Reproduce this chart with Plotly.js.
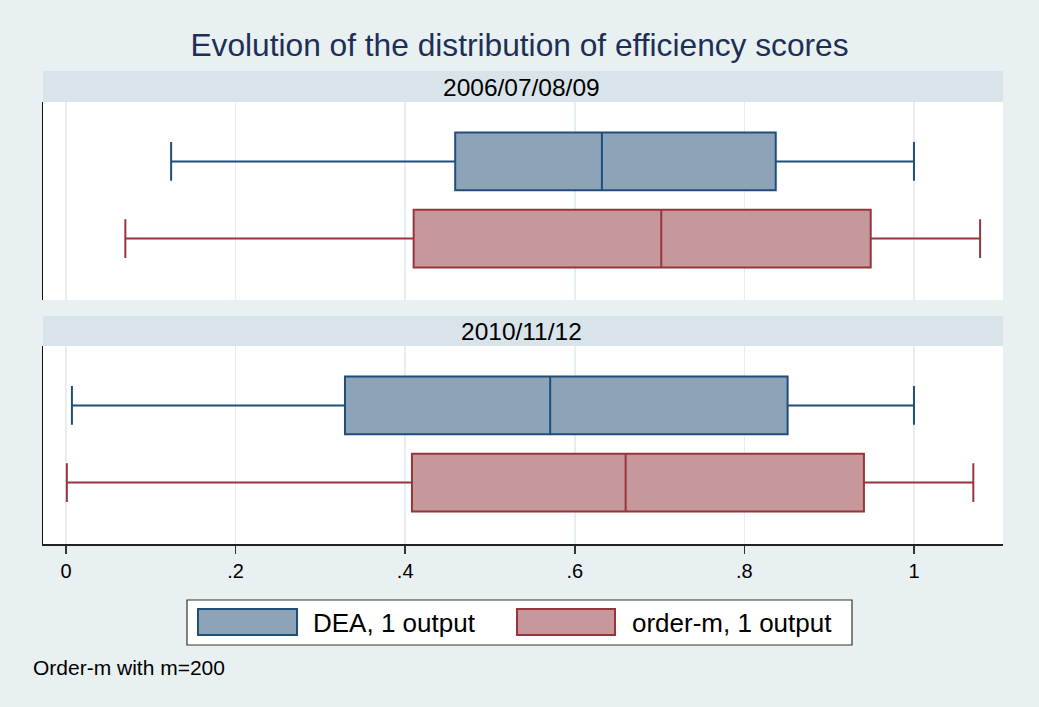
<!DOCTYPE html>
<html>
<head>
<meta charset="utf-8">
<script src="https://cdn.plot.ly/plotly-3.0.1.min.js"></script>
<style>html,body{margin:0;padding:0;background:#E8F0F2;}#chart{width:1039px;height:707px;}</style>
</head>
<body>
<div id="chart"></div>
<script>
// ---- data ----
const seriesNames = ["DEA, 1 output", "order-m, 1 output"];
const periods = ["2006/07/08/09", "2010/11/12"];
// per period: [2006/07/08/09, 2010/11/12]
const deaLower  = [0.124, 0.007];
const deaQ1     = [0.459, 0.329];
const deaMedian = [0.632, 0.571];
const deaQ3     = [0.837, 0.851];
const deaUpper  = [1.000, 1.000];
const omLower   = [0.070, 0.001];
const omQ1      = [0.410, 0.408];
const omMedian  = [0.702, 0.660];
const omQ3      = [0.949, 0.941];
const omUpper   = [1.078, 1.070];
const tickVals  = [0, 0.2, 0.4, 0.6, 0.8, 1];
const tickText  = ["0", ".2", ".4", ".6", ".8", "1"];
const noteText  = "Order-m with m=200";
const titleText = "Evolution of the distribution of efficiency scores";

// ---- styling ----
const W = 1039, H = 707;
const px = x => x / W, py = y => 1 - y / H;
const FONT = "Liberation Sans, Arial, sans-serif";
const styles = [
  {line: "#1F4E79", fill: "#8DA3B8"},
  {line: "#97353C", fill: "#C7989B"}
];
const lowers = [deaLower, omLower], q1s = [deaQ1, omQ1], meds = [deaMedian, omMedian],
      q3s = [deaQ3, omQ3], uppers = [deaUpper, omUpper];

const traces = [];
periods.forEach((p, pi) => {
  seriesNames.forEach((s, si) => {
    traces.push({
      type: "box", orientation: "h",
      name: s, showlegend: false,
      y: [s],
      lowerfence: [lowers[si][pi]], q1: [q1s[si][pi]], median: [meds[si][pi]],
      q3: [q3s[si][pi]], upperfence: [uppers[si][pi]],
      boxpoints: false,
      width: 0.75, whiskerwidth: 0.67,
      fillcolor: styles[si].fill,
      line: {color: styles[si].line, width: 2},
      xaxis: pi === 0 ? "x" : "x2",
      yaxis: pi === 0 ? "y" : "y2",
      hoverinfo: "skip"
    });
  });
});

const xr = [-0.0271, 1.105];
const yr = [-0.795, 1.769];
const catOrder = [seriesNames[1], seriesNames[0]];
const xBase = {
  range: xr, domain: [px(43), px(1003)], tickvals: tickVals, ticktext: tickText,
  showgrid: true, gridcolor: "#E6EEF1", gridwidth: 1.5, zeroline: false, fixedrange: true
};
const yBase = {
  type: "category", categoryorder: "array", categoryarray: catOrder, range: yr,
  showline: true, linecolor: "#111", linewidth: 1.5, showgrid: false, zeroline: false,
  showticklabels: false, ticks: "", fixedrange: true
};

const layout = {
  width: W, height: H,
  margin: {l: 0, r: 0, t: 0, b: 0},
  paper_bgcolor: "#E8F0F2", plot_bgcolor: "#FFFFFF",
  showlegend: false,
  font: {family: FONT, color: "#000"},
  title: {text: titleText, x: 0.5, xanchor: "center", y: py(45), yanchor: "middle",
          font: {family: FONT, size: 31.7, color: "#1E2F55"}},
  xaxis: Object.assign({}, xBase, {anchor: "y", showticklabels: false, ticks: "", showline: false}),
  xaxis2: Object.assign({}, xBase, {anchor: "y2", matches: "x", showline: true, linecolor: "#222", linewidth: 1.5,
          ticks: "outside", ticklen: 8, tickwidth: 1.5, tickcolor: "#333",
          tickfont: {family: FONT, size: 20, color: "#000"}}),
  yaxis: Object.assign({}, yBase, {domain: [py(300), py(102)], anchor: "x"}),
  yaxis2: Object.assign({}, yBase, {domain: [py(544), py(346)], anchor: "x2"}),
  shapes: [
    // strip headers
    {type: "rect", xref: "paper", yref: "paper", x0: px(43), x1: px(1003), y0: py(102), y1: py(71),
     fillcolor: "#D8E4EA", line: {width: 0}, layer: "below"},
    {type: "rect", xref: "paper", yref: "paper", x0: px(43), x1: px(1003), y0: py(346), y1: py(316),
     fillcolor: "#D8E4EA", line: {width: 0}, layer: "below"},
    // legend frame
    {type: "rect", xref: "paper", yref: "paper", x0: px(187), x1: px(852), y0: py(645), y1: py(600),
     fillcolor: "#FFFFFF", line: {color: "#333", width: 1.2}},
    // legend swatches
    {type: "rect", xref: "paper", yref: "paper", x0: px(198), x1: px(297), y0: py(635), y1: py(609),
     fillcolor: styles[0].fill, line: {color: styles[0].line, width: 2}},
    {type: "rect", xref: "paper", yref: "paper", x0: px(517), x1: px(615), y0: py(635), y1: py(609),
     fillcolor: styles[1].fill, line: {color: styles[1].line, width: 2}}
  ],
  annotations: [
    {text: periods[0], xref: "paper", yref: "paper", x: px(521), y: py(87), xanchor: "center", yanchor: "middle",
     showarrow: false, font: {family: FONT, size: 24.5, color: "#000"}},
    {text: periods[1], xref: "paper", yref: "paper", x: px(521), y: py(331), xanchor: "center", yanchor: "middle",
     showarrow: false, font: {family: FONT, size: 24.5, color: "#000"}},
    {text: seriesNames[0], xref: "paper", yref: "paper", x: px(311), y: py(623), xanchor: "left", yanchor: "middle",
     showarrow: false, font: {family: FONT, size: 26, color: "#000"}},
    {text: seriesNames[1], xref: "paper", yref: "paper", x: px(630), y: py(623), xanchor: "left", yanchor: "middle",
     showarrow: false, font: {family: FONT, size: 26, color: "#000"}},
    {text: noteText, xref: "paper", yref: "paper", x: px(31), y: py(667), xanchor: "left", yanchor: "middle",
     showarrow: false, font: {family: FONT, size: 21, color: "#000"}}
  ]
};

Plotly.newPlot("chart", traces, layout, {staticPlot: true, displayModeBar: false});
</script>
</body>
</html>
